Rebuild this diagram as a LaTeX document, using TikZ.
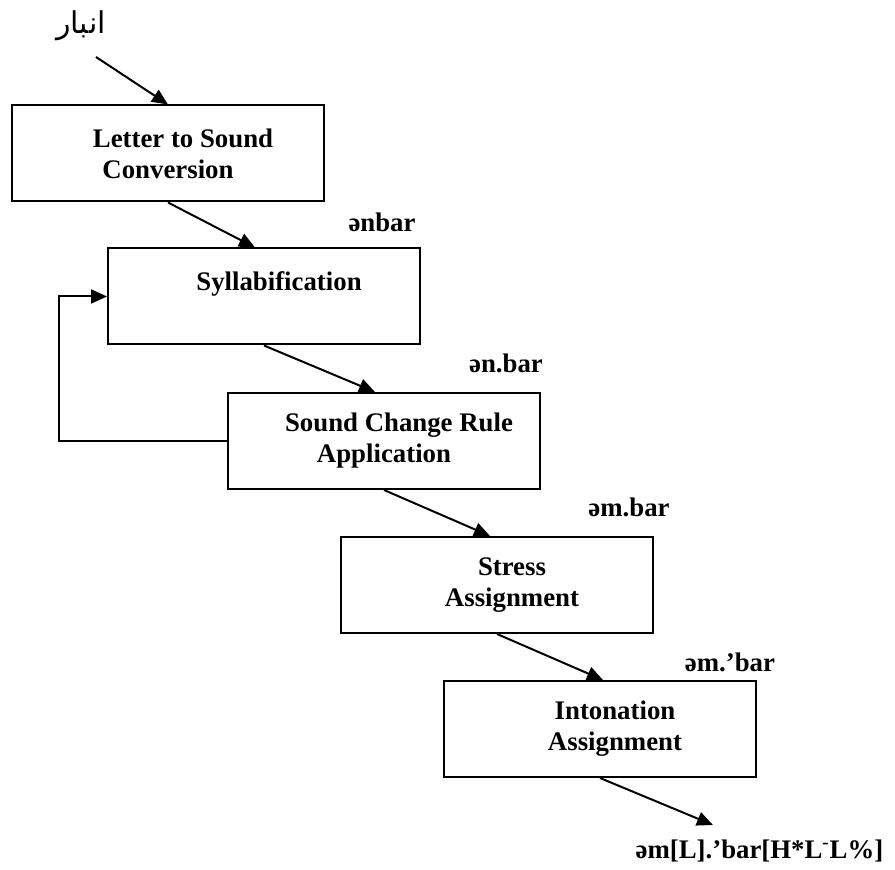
\documentclass[tikz,border=0pt]{standalone}
\usepackage{fontspec}
\setmainfont{Liberation Serif}
\newfontfamily\arabicfont[Script=Arabic]{DejaVu Sans}
\TeXXeTstate=1
\usetikzlibrary{arrows.meta}

\newcommand{\pad}{\hspace*{15pt}}

\tikzset{
  stage/.style={draw, line width=1pt, minimum width=156pt, minimum height=48pt,
    align=center, font=\fontsize{13.4}{15.5}\selectfont\bfseries},
  form/.style={font=\fontsize{13.4}{15}\selectfont\bfseries},
}

\begin{document}
\begin{tikzpicture}[x=0.5pt, y=-0.5pt, line width=1pt,
    >={Triangle[length=8pt,width=7pt]}]
  \useasboundingbox (0,0) rectangle (895,870);

  \node[stage] (b1) at (168,153.5) {\pad Letter to Sound\\Conversion};
  \node[stage] (b2) at (264,296.5) {\pad Syllabification\\\mbox{}};
  \node[stage] (b3) at (384,441) {\pad Sound Change Rule\\Application};
  \node[stage] (b4) at (497,585) {\pad Stress\\\pad Assignment};
  \node[stage] (b5) at (600,729) {\pad Intonation\\\pad Assignment};

  \node[font=\arabicfont\fontsize{15}{17}\selectfont] (word) at (81,26) {\beginR انبار\endR};
  \node[form] (f1) at (382,222) {ənbar};
  \node[form] (f2) at (506,363) {ən.bar};
  \node[form] (f3) at (629,507) {əm.bar};
  \node[form] (f4) at (730,662) {əm.’bar};
  \node[form, anchor=east] (f5) at (891,851) {əm[L].’bar[H*L\textsuperscript{-}L\%]};

  \coordinate (in) at (96,57);
  \coordinate (out) at (713,825);

  \draw[->] (in) -- (b1.north);
  \draw[->] (b1.south) -- ([xshift=-4.5pt]b2.north);
  \draw[->] (b2.south) -- ([xshift=-4.5pt]b3.north);
  \draw[->] (b3.south) -- ([xshift=-3.5pt]b4.north);
  \draw[->] (b4.south) -- ([xshift=1.5pt]b5.north);
  \draw[->] (b5.south) -- (out);
  \draw[->] (b3.west) -- ++(-168,0) |- (b2.west);
\end{tikzpicture}
\end{document}
